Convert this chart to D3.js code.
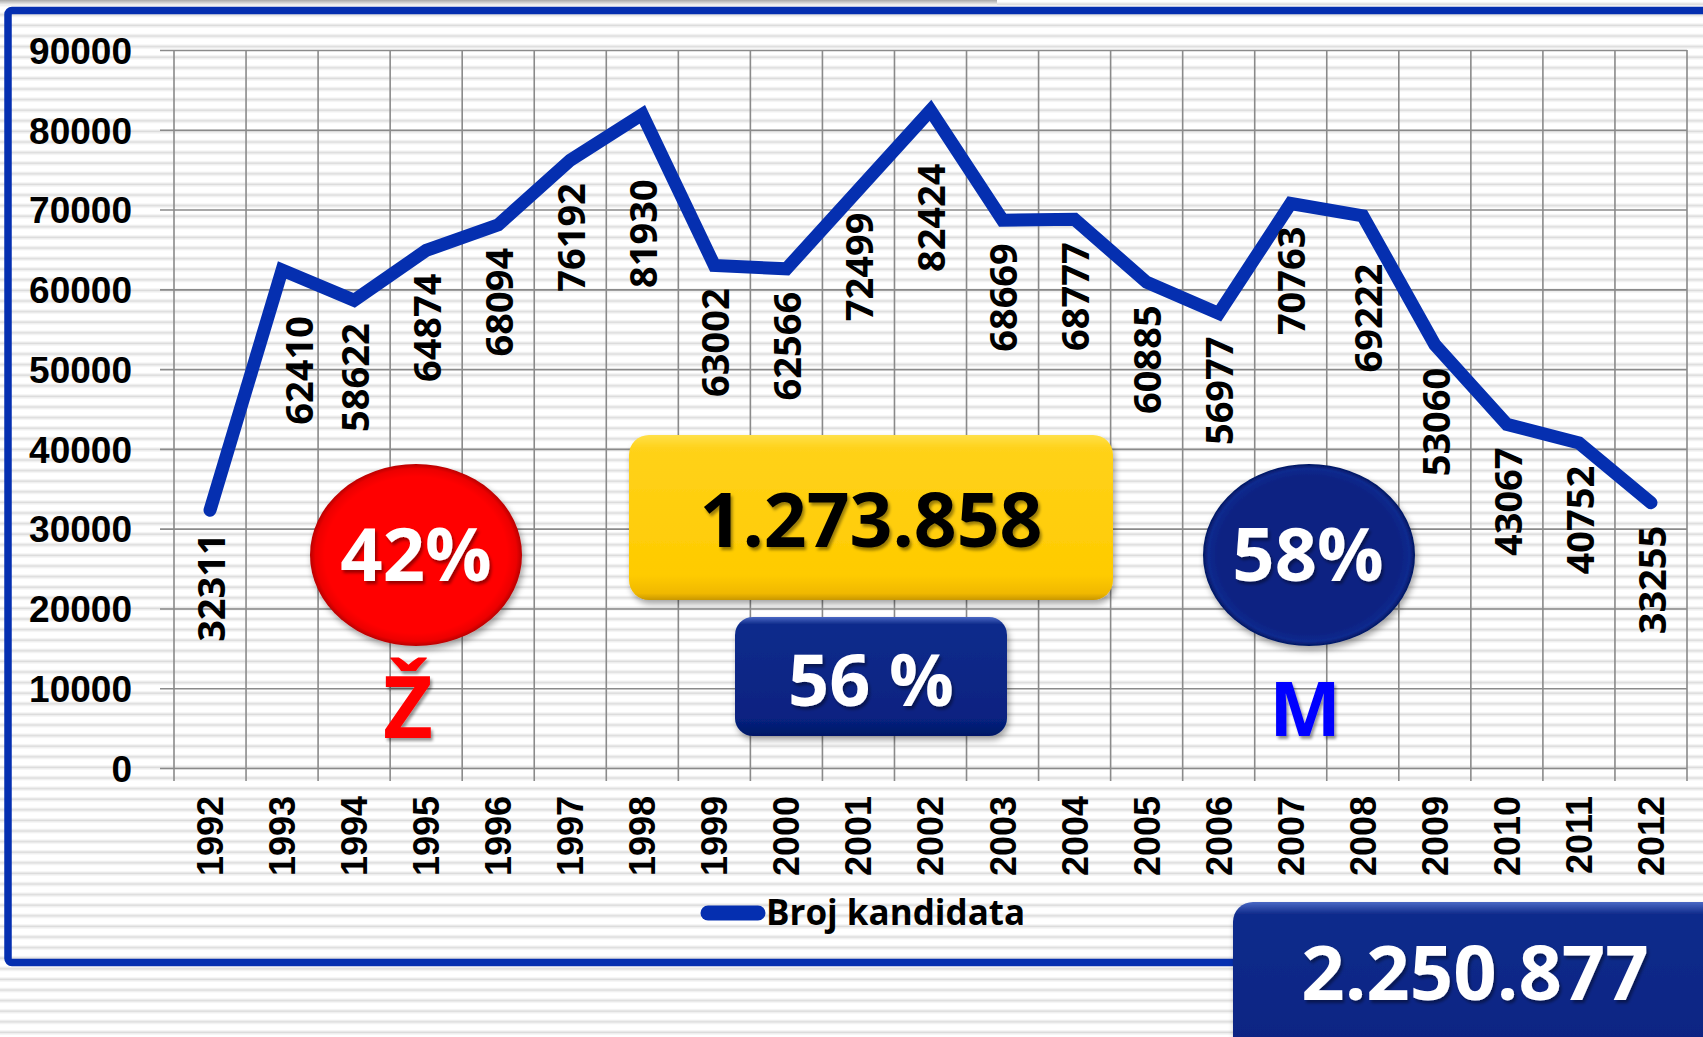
<!DOCTYPE html>
<html>
<head>
<meta charset="utf-8">
<script src="https://cdn.jsdelivr.net/npm/d3@7"></script>
<style>
  html, body { margin: 0; padding: 0; background: #fff; }
  svg { display: block; font-family: "Open Sans", "Noto Sans", sans-serif; font-weight: 700; }
</style>
</head>
<body>
<svg id="chart" width="1703" height="1037"></svg>
<script>
// data
const years = ['1992', '1993', '1994', '1995', '1996', '1997', '1998', '1999', '2000', '2001', '2002',
  '2003', '2004', '2005', '2006', '2007', '2008', '2009', '2010', '2011', '2012']
const candidates = [32311, 62410, 58622, 64874, 68094, 76192, 81930, 63002, 62566, 72499, 82424,
  68669, 68777, 60885, 56977, 70763, 69222, 53060, 43067, 40752, 33255]
const yTicks = [0, 10000, 20000, 30000, 40000, 50000, 60000, 70000, 80000, 90000]
const seriesName = 'Broj kandidata'
const totalAll = '2.250.877'
const totalShown = '1.273.858'
const shareShown = '56 %'
const shareF = '42%'
const shareM = '58%'
const labelF = 'Ž'
const labelM = 'M'

window.addEventListener('load', () => {
  const svg = d3.select('#chart'),
    width = +svg.attr('width'),
    height = +svg.attr('height'),
    left = 174,
    right = 1687,
    top = 50,
    bottom = 768,
    blue = '#052fb0'

  // labels that were dragged away from the line in the original
  const labelShift = { '1993': [16, 23], '1998': [0, 42], '2002': [0, 30], '2008': [5, 25] }

  const x = d3.scaleBand().domain(years).range([left, right]).padding(0)
  const y = d3.scaleLinear().domain([0, 90000]).range([bottom, top])
  const cx = (d) => x(d) + x.bandwidth() / 2

  const defs = svg.append('defs')

  const stripes = defs.append('pattern')
    .attr('id', 'stripes')
    .attr('patternUnits', 'userSpaceOnUse')
    .attr('width', 20).attr('height', 10.6)
  stripes.append('rect').attr('width', 20).attr('height', 10.6).attr('fill', '#ffffff')
  stripes.append('rect').attr('y', 2.4).attr('width', 20).attr('height', 1).attr('fill', '#ececec')
  stripes.append('rect').attr('y', 3.4).attr('width', 20).attr('height', 1.8).attr('fill', '#dcdcdc')
  stripes.append('rect').attr('y', 5.2).attr('width', 20).attr('height', 1).attr('fill', '#ececec')

  const shadow = defs.append('filter').attr('id', 'shadow')
    .attr('x', '-20%').attr('y', '-20%').attr('width', '140%').attr('height', '150%')
  shadow.append('feDropShadow').attr('dx', 2).attr('dy', 4).attr('stdDeviation', 3)
    .attr('flood-color', '#000').attr('flood-opacity', 0.35)

  const textShadow = defs.append('filter').attr('id', 'tshadow')
    .attr('x', '-10%').attr('y', '-10%').attr('width', '130%').attr('height', '140%')
  textShadow.append('feDropShadow').attr('dx', 2).attr('dy', 3).attr('stdDeviation', 1.5)
    .attr('flood-color', '#000').attr('flood-opacity', 0.4)

  function linear(id, stops) {
    const g = defs.append('linearGradient').attr('id', id)
      .attr('x1', 0).attr('y1', 0).attr('x2', 0).attr('y2', 1)
    stops.forEach(([o, c]) => g.append('stop').attr('offset', o).attr('stop-color', c))
  }
  function radial(id, stops) {
    const g = defs.append('radialGradient').attr('id', id)
      .attr('cx', '50%').attr('cy', '50%').attr('r', '50%')
    stops.forEach(([o, c]) => g.append('stop').attr('offset', o).attr('stop-color', c))
  }
  linear('yellowFill', [['0', '#ffe04a'], ['0.08', '#ffd21a'], ['0.85', '#ffcb00'], ['0.96', '#f0b800'], ['1', '#c99700']])
  linear('navyFill', [['0', '#4a68c4'], ['0.06', '#102c8c'], ['0.85', '#072281'], ['1', '#041866']])
  radial('redFill', [['0', '#ff0000'], ['0.86', '#ff0000'], ['0.95', '#ec0000'], ['1', '#b80000']])
  radial('navyBall', [['0', '#072282'], ['0.86', '#072282'], ['0.95', '#0b2a8e'], ['1', '#041660']])

  // background
  svg.append('rect').attr('width', width).attr('height', height).attr('fill', 'url(#stripes)')
  const topShade = defs.append('linearGradient').attr('id', 'topShade')
    .attr('x1', 0).attr('y1', 0).attr('x2', 0).attr('y2', 1)
  topShade.append('stop').attr('offset', 0).attr('stop-color', '#a8a8a8')
  topShade.append('stop').attr('offset', 1).attr('stop-color', '#f4f4f4')
  svg.append('rect').attr('x', 0).attr('y', 0).attr('width', 997).attr('height', 5)
    .attr('fill', 'url(#topShade)')

  // frame
  svg.append('rect')
    .attr('x', 8).attr('y', 10.5).attr('width', 1900).attr('height', 952)
    .attr('rx', 4)
    .attr('fill', 'none').attr('stroke', blue).attr('stroke-width', 7.5)

  // grid: vertical lines at category edges
  const edges = years.map((d) => x(d)).concat([right])
  svg.append('g')
    .selectAll('line')
    .data(edges)
    .join('line')
    .attr('x1', (d) => d).attr('x2', (d) => d)
    .attr('y1', top).attr('y2', bottom + 13)
    .attr('stroke', '#8a8a8a').attr('stroke-width', 1.6)

  // y axis with full-width grid lines
  svg.append('g')
    .attr('transform', `translate(${left},0)`)
    .call(d3.axisLeft(y).tickValues(yTicks).tickSizeInner(-(right - left)).tickSizeOuter(0)
      .tickPadding(42).tickFormat(d3.format('d')))
    .call((g) => g.select('.domain').remove())
    .call((g) => g.selectAll('.tick line').attr('x1', -14).attr('stroke', '#8a8a8a').attr('stroke-width', 1.6))
    .call((g) => g.selectAll('.tick text')
      .attr('fill', '#000').attr('font-size', 37).attr('font-family', null).attr('dy', '0.36em'))

  // x axis labels
  svg.append('g')
    .attr('transform', `translate(0,${bottom})`)
    .call(d3.axisBottom(x).tickSize(0).tickPadding(0))
    .call((g) => g.select('.domain').remove())
    .call((g) => g.selectAll('.tick text')
      .attr('fill', '#000').attr('font-size', 36).attr('font-family', null)
      .attr('transform', 'rotate(-90)')
      .attr('text-anchor', 'end')
      .attr('x', -28).attr('y', 0).attr('dy', '0.36em'))

  // series line
  const line = d3.line().x((d, i) => cx(years[i])).y((d) => y(d))
  svg.append('path')
    .datum(candidates)
    .attr('d', line)
    .attr('fill', 'none')
    .attr('stroke', blue)
    .attr('stroke-width', 13)
    .attr('stroke-linejoin', 'miter')
    .attr('stroke-linecap', 'round')

  // data labels under the points
  svg.append('g')
    .selectAll('text')
    .data(candidates)
    .join('text')
    .attr('transform', (d, i) => {
      const s = labelShift[years[i]] || [0, 0]
      return `translate(${cx(years[i]) + 1 + s[0]},${y(d) + 23 + s[1]}) rotate(-90)`
    })
    .attr('text-anchor', 'end')
    .attr('dy', '0.36em')
    .attr('font-size', 38)
    .attr('fill', '#000')
    .text((d) => d)

  // female share
  svg.append('ellipse')
    .attr('cx', 416).attr('cy', 555).attr('rx', 106).attr('ry', 91)
    .attr('fill', 'url(#redFill)').attr('filter', 'url(#shadow)')
  svg.append('text')
    .attr('x', 416).attr('y', 581).attr('text-anchor', 'middle')
    .attr('font-size', 74).attr('fill', '#fff').attr('filter', 'url(#tshadow)')
    .text(shareF)
  svg.append('text')
    .attr('x', 408).attr('y', 738).attr('text-anchor', 'middle')
    .attr('font-size', 86).attr('fill', '#ff0000').attr('filter', 'url(#tshadow)')
    .text(labelF)

  // male share
  svg.append('ellipse')
    .attr('cx', 1309).attr('cy', 555).attr('rx', 106).attr('ry', 91)
    .attr('fill', 'url(#navyBall)').attr('filter', 'url(#shadow)')
  svg.append('text')
    .attr('x', 1308).attr('y', 581).attr('text-anchor', 'middle')
    .attr('font-size', 74).attr('fill', '#fff').attr('filter', 'url(#tshadow)')
    .text(shareM)
  svg.append('text')
    .attr('x', 1305).attr('y', 736).attr('text-anchor', 'middle')
    .attr('font-size', 76).attr('fill', '#0000ff').attr('filter', 'url(#tshadow)')
    .text(labelM)

  // totals
  svg.append('rect')
    .attr('x', 629).attr('y', 435).attr('width', 484).attr('height', 165).attr('rx', 20)
    .attr('fill', 'url(#yellowFill)').attr('filter', 'url(#shadow)')
  svg.append('text')
    .attr('x', 871).attr('y', 547).attr('text-anchor', 'middle')
    .attr('font-size', 75).attr('fill', '#000').attr('filter', 'url(#tshadow)')
    .text(totalShown)

  svg.append('rect')
    .attr('x', 735).attr('y', 617).attr('width', 272).attr('height', 119).attr('rx', 18)
    .attr('fill', 'url(#navyFill)').attr('filter', 'url(#shadow)')
  svg.append('text')
    .attr('x', 871).attr('y', 706).attr('text-anchor', 'middle')
    .attr('font-size', 72).attr('fill', '#fff').attr('filter', 'url(#tshadow)')
    .text(shareShown)

  // legend
  const legend = svg.append('g')
  legend.append('line')
    .attr('x1', 708).attr('x2', 758).attr('y1', 913).attr('y2', 913)
    .attr('stroke', blue).attr('stroke-width', 15).attr('stroke-linecap', 'round')
  legend.append('text')
    .attr('x', 766).attr('y', 925)
    .attr('font-size', 35).attr('fill', '#000')
    .text(seriesName)

  svg.append('rect')
    .attr('x', 1233).attr('y', 902).attr('width', 520).attr('height', 200).attr('rx', 20)
    .attr('fill', 'url(#navyFill)').attr('filter', 'url(#shadow)')
  svg.append('text')
    .attr('x', 1475).attr('y', 1000).attr('text-anchor', 'middle')
    .attr('font-size', 76).attr('fill', '#fff').attr('filter', 'url(#tshadow)')
    .text(totalAll)
})
</script>
</body>
</html>
